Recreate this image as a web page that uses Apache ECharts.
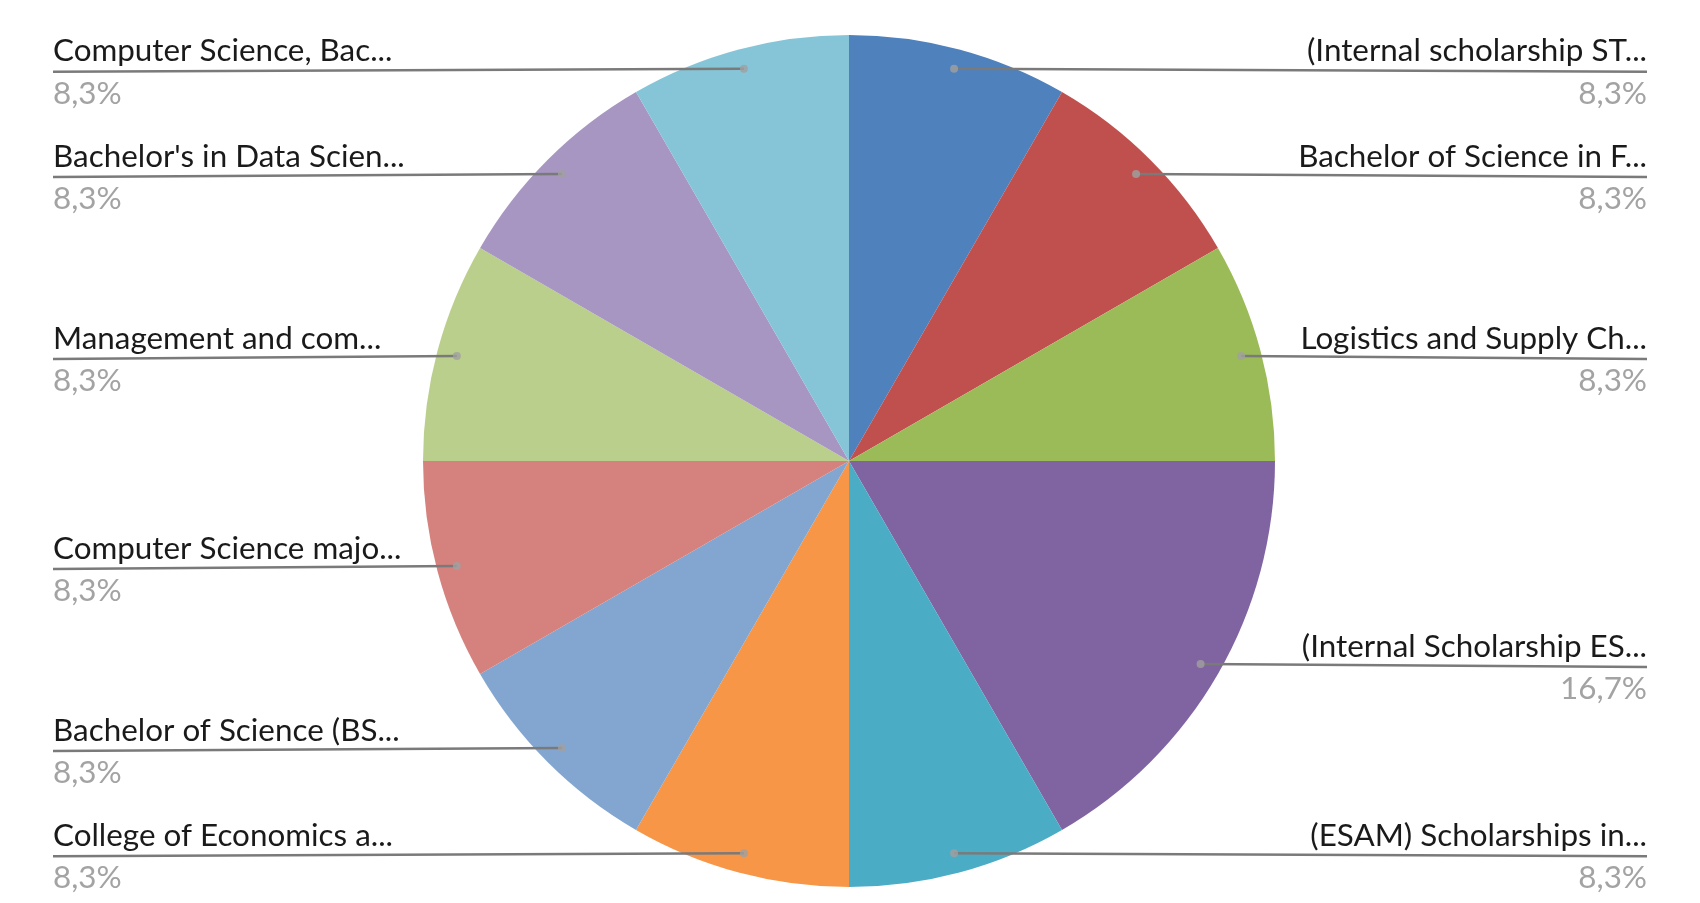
<!DOCTYPE html>
<html>
<head>
<meta charset="utf-8">
<script src="https://cdn.jsdelivr.net/npm/echarts@6/dist/echarts.min.js"></script>
<style>
html,body{margin:0;padding:0;background:#fff;}
#chart{width:1700px;height:903px;}
</style>
</head>
<body>
<div id="chart"></div>
<script>
var categories = [
  '(Internal scholarship ST...',
  'Bachelor of Science in F...',
  'Logistics and Supply Ch...',
  '(Internal Scholarship ES...',
  '(ESAM) Scholarships in...',
  'College of Economics a...',
  'Bachelor of Science (BS...',
  'Computer Science majo...',
  'Management and com...',
  "Bachelor's in Data Scien...",
  'Computer Science, Bac...'
];
var values = [1, 1, 1, 2, 1, 1, 1, 1, 1, 1, 1];
var colors = ['#4F81BD', '#C0504D', '#9BBB59', '#8064A2', '#4BACC6', '#F79646',
              '#83A6D1', '#D5827E', '#BBCF8C', '#A696C1', '#86C5D8'];

var chart = echarts.init(document.getElementById('chart'));

var pieData = categories.map(function (c, i) {
  return { name: c, value: values[i], itemStyle: { color: colors[i] } };
});
var labelData = categories.map(function (c, i) {
  return { name: c, value: values[i] };
});
var total = values.reduce(function (a, b) { return a + b; }, 0);
var cum = 0;
var dotData = values.map(function (v) {
  var mid = cum + v / 2;
  cum += v;
  return [0.953, mid];
});

var center = [849, 461];
var R = 426;

chart.setOption({
  backgroundColor: '#ffffff',
  animation: false,
  polar: { center: center, radius: R },
  angleAxis: { type: 'value', min: 0, max: total, startAngle: 90, clockwise: true, show: false },
  radiusAxis: { type: 'value', min: 0, max: 1, show: false },
  series: [
    {
      type: 'pie',
      center: center,
      radius: R,
      startAngle: 90,
      clockwise: true,
      silent: true,
      label: { show: false },
      labelLine: { show: false },
      itemStyle: { borderWidth: 0 },
      data: pieData,
      z: 1
    },
    {
      type: 'pie',
      center: center,
      radius: R * 0.953,
      startAngle: 90,
      clockwise: true,
      silent: true,
      itemStyle: { color: 'rgba(0,0,0,0)', borderWidth: 0 },
      label: {
        show: true,
        position: 'outside',
        alignTo: 'edge',
        edgeDistance: 53,
        formatter: function (p) {
          return '{name|' + p.name + '}\n{per|' + p.percent.toFixed(1).replace('.', ',') + '%}';
        },
        rich: {
          name: { fontFamily: 'Lato', fontSize: 31.4, color: '#1a1a1a', lineHeight: 42 },
          per: { fontFamily: 'Lato', fontSize: 31.4, color: '#a3a3a3', lineHeight: 43 }
        }
      },
      labelLine: {
        show: true,
        length: 0,
        length2: 10,
        lineStyle: { color: '#7a7a7a', width: 2.5 }
      },
      labelLayout: function (params) {
        var isLeft = params.labelRect.x < chart.getWidth() / 2;
        var points = params.labelLinePoints;
        if (points) {
          points[2][0] = isLeft ? params.labelRect.x : params.labelRect.x + params.labelRect.width;
          points[2][1] += 3;
        }
        return { labelLinePoints: points, dy: 4 };
      },
      data: labelData,
      z: 3
    },
    {
      type: 'scatter',
      coordinateSystem: 'polar',
      symbol: 'circle',
      symbolSize: 8,
      silent: true,
      itemStyle: { color: '#a0a0a0' },
      data: dotData,
      z: 4
    }
  ]
});
</script>
</body>
</html>
